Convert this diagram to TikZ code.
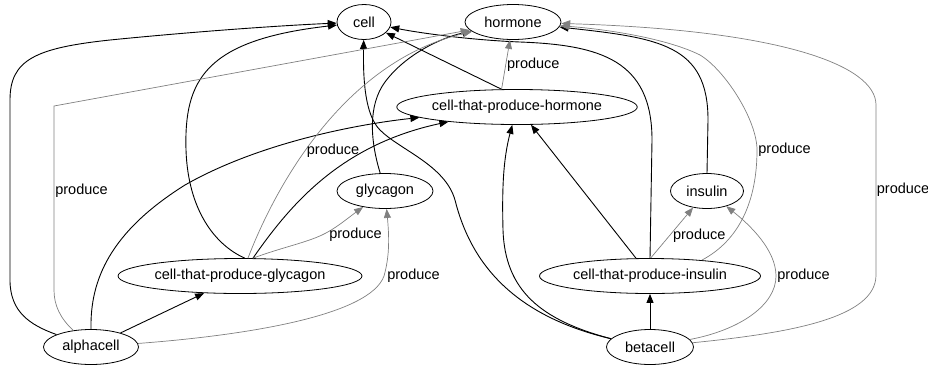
\documentclass[tikz,border=0pt]{standalone}
\usepackage{fontspec}
\setmainfont{Liberation Sans}
\usetikzlibrary{shapes, arrows.meta}

\begin{document}
\begin{tikzpicture}[
		x=1pt, y=-1pt,
		concept/.style={draw, ellipse, inner sep=0pt, minimum height=35pt, line width=0.8pt, font=\fontsize{14.5}{17}\selectfont},
		isa/.style={-{Triangle[length=9pt, width=7pt]}, line width=0.9pt},
		rel/.style={-{Triangle[length=9pt, width=7pt]}, gray, line width=0.7pt},
		lbl/.style={text=black, inner sep=1pt, font=\fontsize{14.5}{17}\selectfont}
		]
		\useasboundingbox (0,0) rectangle (928,365);
		
		% Nodes
		\node[concept, minimum width=54pt] (cell) at (364,22) {cell};
		\node[concept, minimum width=96pt] (hormone) at (513,22) {hormone};
		\node[concept, minimum width=234pt] (cellhormone) at (517,107) {cell-that-produce-hormone};
		\node[concept, minimum width=96pt] (glycagon) at (385,191) {glycagon};
		\node[concept, minimum width=73pt] (insulin) at (707,191) {insulin};
		\node[concept, minimum width=244pt] (cellglycagon) at (240,276) {cell-that-produce-glycagon};
		\node[concept, minimum width=221pt] (cellinsulin) at (650,276) {cell-that-produce-insulin};
		\node[concept, minimum width=95pt] (alphacell) at (91,347) {alphacell};
		\node[concept, minimum width=87pt] (betacell) at (650,347) {betacell};
		
		% Black arrows
		\draw[isa] (alphacell) .. controls (30,325) and (10,312) .. (10,280) -- (10,100) .. controls (10,60) and (35,48) .. (110,40) .. controls (200,31) and (290,25) .. (cell);
		\draw[isa] (alphacell) -- (cellglycagon);
		\draw[isa] (alphacell.north) .. controls (90,280) and (110,232) .. (185,185) .. controls (255,145) and (350,125) .. (cellhormone);
		\draw[isa] (cellglycagon.75) .. controls (215,245) and (188,210) .. (186,150) .. controls (184,80) and (205,40) .. (cell);
		\draw[isa] (cellglycagon.54) .. controls (290,205) and (340,145) .. (cellhormone);
		\draw[isa] (glycagon.105) .. controls (370,140) and (368,105) .. (385,82) .. controls (405,55) and (440,38) .. (hormone);
		\draw[isa] (cellhormone.131) -- (cell);
		\draw[isa] (cellinsulin) -- (cellhormone);
		\draw[isa] (cellinsulin.north) -- (652,140) .. controls (652,60) and (600,45) .. (520,42) .. controls (470,40) and (420,33) .. (cell);
		\draw[isa] (insulin.north) -- (708,120) .. controls (708,45) and (660,38) .. (hormone);
		\draw[isa] (betacell.168) .. controls (510,315) and (470,260) .. (455,200) .. controls (445,165) and (400,150) .. (380,130) .. controls (365,115) and (363,80) .. (cell);
		\draw[isa] (betacell.168) .. controls (540,320) and (505,290) .. (503,230) .. controls (502,190) and (503,160) .. (cellhormone);
		\draw[isa] (betacell) -- (cellinsulin);
		
		% Grey arrows
		\draw[rel] (alphacell) .. controls (60,318) and (54,305) .. (54,290) -- (54,191) node[lbl, right] {produce} -- (54,106) -- (hormone);
		\draw[rel] (alphacell) .. controls (250,335) and (370,315) .. (384,276) node[lbl, right, xshift=2pt] {produce} .. controls (390,255) and (389,235) .. (glycagon);
		\draw[rel] (cellglycagon.54) .. controls (280,248) and (305,243) .. (322,235) node[lbl, right, xshift=6pt] {produce} .. controls (335,229) and (348,218) .. (glycagon);
		\draw[rel] (cellglycagon.66) .. controls (280,175) and (350,60) .. node[lbl, pos=0.4, right] {produce} (hormone);
		\draw[rel] (cellhormone.131) -- node[lbl, right] {produce} (hormone);
		\draw[rel] (cellinsulin.88) -- node[lbl, pos=0.45, right, xshift=2pt] {produce} (insulin);
		\draw[rel] (cellinsulin.17) .. controls (740,240) and (757,200) .. (757,150) node[lbl, right] {produce} .. controls (757,120) and (725,70) .. (700,55) .. controls (670,40) and (615,30) .. (hormone);
		\draw[rel] (betacell) .. controls (740,330) and (776,305) .. (776,276) node[lbl, right] {produce} .. controls (776,250) and (750,225) .. (insulin);
		\draw[rel] (betacell) .. controls (790,333) and (876,318) .. (876,275) -- (876,190) node[lbl, right, inner sep=0.5pt] {produce} -- (876,105) .. controls (876,65) and (780,30) .. (hormone);
		
	\end{tikzpicture}
\end{document}
